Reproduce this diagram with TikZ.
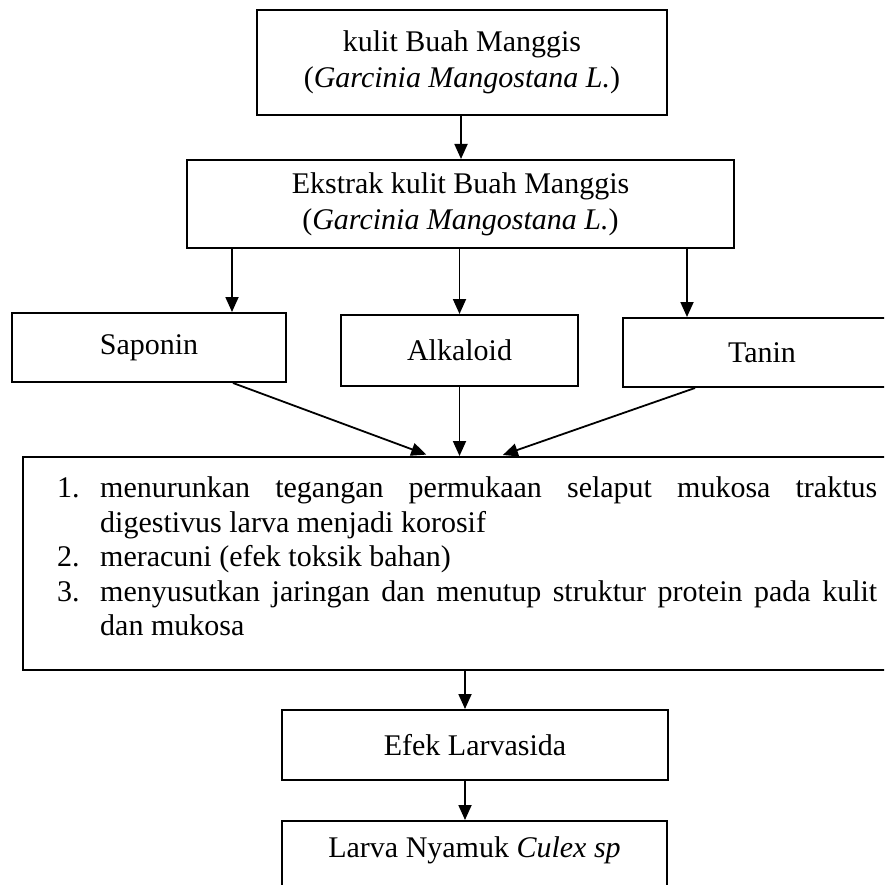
\documentclass[tikz,border=0pt]{standalone}
\usepackage{fontspec}
\setmainfont{Liberation Serif}
\usetikzlibrary{arrows.meta}
\begin{document}
\begin{tikzpicture}[x=1pt,y=-1pt,
  box/.style={draw, line width=2pt, inner sep=0pt, align=center,
    font=\fontsize{30pt}{36pt}\selectfont},
  arr/.style={line width=1.8pt, -{Triangle[length=15pt,width=13pt]}},
  listtext/.style={anchor=north west, inner sep=0pt, text width=820pt, align=justify,
    font=\fontsize{30pt}{34.5pt}\selectfont}
]
\useasboundingbox (0,0) rectangle (884,885);
\clip (0,0) rectangle (884,885);

\node[box, minimum width=410pt, minimum height=105pt] (kulit) at (462,62.5)
  {kulit Buah Manggis\\(\textit{Garcinia Mangostana L.})};
\node[box, minimum width=547pt, minimum height=88pt] (ekstrak) at (460.5,204)
  {Ekstrak kulit Buah Manggis\\(\textit{Garcinia Mangostana L.})};

\node[box, minimum width=274pt, minimum height=69pt] (sap) at (149,347.5) {Saponin};
\node[box, minimum width=237pt, minimum height=71pt] (alk) at (459.5,350.5) {Alkaloid};
\node[box, minimum width=278pt, minimum height=69pt] (tan) at (762,352.5) {Tanin};

\node[box, minimum width=882pt, minimum height=213pt] (mech) at (464,563.5) {};
\node[listtext] (mechtxt) at (57,476.5) {\parindent=0pt\hyphenpenalty=10000\exhyphenpenalty=10000\tolerance=10000%
\hangindent=43pt\hangafter=1\makebox[43pt][l]{1.}menurunkan tegangan permukaan selaput mukosa traktus digestivus larva menjadi korosif\par
\hangindent=43pt\hangafter=1\makebox[43pt][l]{2.}meracuni (efek toksik bahan)\par
\hangindent=43pt\hangafter=1\makebox[43pt][l]{3.}menyusutkan jaringan dan menutup struktur protein pada kulit dan mukosa\par};

\node[box, minimum width=386pt, minimum height=70pt] (efek) at (475,745) {Efek Larvasida};
\node[box, minimum width=385pt, text height=36pt, text depth=39pt, anchor=north] (larva) at (474.5,820)
  {Larva Nyamuk \textit{Culex sp}};

\draw[arr] (kulit.south -| 461,0) -- (ekstrak.north -| 461,0);
\draw[arr] (ekstrak.south -| 232,0) -- (sap.north -| 232,0);
\draw[arr] (ekstrak.south -| 459.5,0) -- (alk.north);
\draw[arr] (ekstrak.south -| 687,0) -- (tan.north -| 687,0);

\draw[arr, shorten >=4pt] (sap.south -| 233,0) -- (mech.north -| 430,0);
\draw[arr] (alk.south) -- (mech.north -| 459.5,0);
\draw[arr, shorten >=3pt] (tan.south -| 695,0) -- (mech.north -| 500,0);

\draw[arr] (mech.south -| 465,0) -- (efek.north -| 465,0);
\draw[arr] (efek.south -| 465,0) -- (larva.north -| 465,0);
\end{tikzpicture}
\end{document}
